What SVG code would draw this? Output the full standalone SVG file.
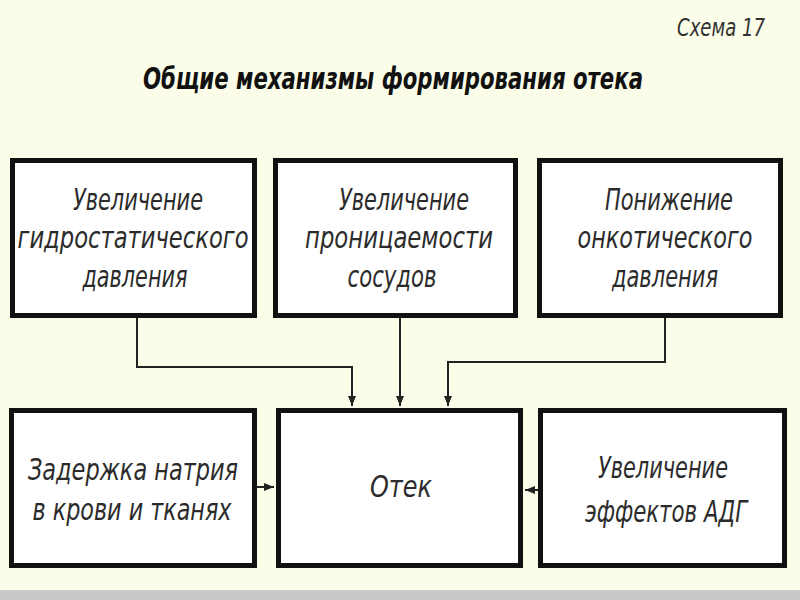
<svg xmlns="http://www.w3.org/2000/svg" width="800" height="600" viewBox="0 0 800 600">
<style>
.box{fill:#ffffff;stroke:#111;stroke-width:5}
.t{font-family:"DejaVu Sans Condensed","DejaVu Sans","Liberation Sans",sans-serif;font-style:italic;font-size:30px;fill:#2b2b2b;text-anchor:middle}
.title{font-family:"DejaVu Sans Condensed","DejaVu Sans","Liberation Sans",sans-serif;font-style:italic;font-weight:bold;font-size:30px;fill:#111;text-anchor:middle}
.sch{font-family:"DejaVu Sans Condensed","DejaVu Sans","Liberation Sans",sans-serif;font-style:italic;font-size:24px;fill:#333}
.c{fill:none;stroke:#222;stroke-width:2}
</style>
<defs>
<marker id="ah" viewBox="0 0 10 10" refX="10" refY="5" markerWidth="5" markerHeight="5" orient="auto" markerUnits="strokeWidth">
<path d="M0,1 L10,5 L0,9 Z" fill="#222"/>
</marker>
</defs>
<rect x="0" y="0" width="800" height="600" fill="#fbfde8"/>
<rect x="0" y="590" width="800" height="10" fill="#c9c9c9"/>
<text class="sch" x="677" y="36" textLength="88" lengthAdjust="spacingAndGlyphs">Схема 17</text>
<text class="title" x="393" y="89" textLength="500" lengthAdjust="spacingAndGlyphs">Общие механизмы формирования отека</text>

<g id="connectors">
<path class="c" d="M137,318 V367 H352 V406" marker-end="url(#ah)"/>
<path class="c" d="M400,318 V406" marker-end="url(#ah)"/>
<path class="c" d="M665,318 V362 H448 V406" marker-end="url(#ah)"/>
<path class="c" d="M257,487 H274" marker-end="url(#ah)"/>
<path class="c" d="M538,490 H525" marker-end="url(#ah)"/>
</g>

<g id="n1">
<rect class="box" x="12.5" y="160.5" width="242" height="155"/>
<text class="t" x="138" y="210" textLength="130" lengthAdjust="spacingAndGlyphs">Увеличение</text>
<text class="t" x="133" y="248" textLength="231" lengthAdjust="spacingAndGlyphs">гидростатического</text>
<text class="t" x="135" y="287" textLength="105" lengthAdjust="spacingAndGlyphs">давления</text>
</g>
<g id="n2">
<rect class="box" x="275.5" y="160.5" width="240" height="155"/>
<text class="t" x="404" y="210" textLength="130" lengthAdjust="spacingAndGlyphs">Увеличение</text>
<text class="t" x="399" y="248" textLength="188" lengthAdjust="spacingAndGlyphs">проницаемости</text>
<text class="t" x="392" y="287" textLength="89" lengthAdjust="spacingAndGlyphs">сосудов</text>
</g>
<g id="n3">
<rect class="box" x="539.5" y="160.5" width="241" height="155"/>
<text class="t" x="669" y="210" textLength="128" lengthAdjust="spacingAndGlyphs">Понижение</text>
<text class="t" x="665" y="248" textLength="175" lengthAdjust="spacingAndGlyphs">онкотического</text>
<text class="t" x="665" y="287" textLength="106" lengthAdjust="spacingAndGlyphs">давления</text>
</g>
<g id="n4">
<rect class="box" x="11.5" y="410.5" width="243" height="155"/>
<text class="t" x="133" y="480" textLength="210" lengthAdjust="spacingAndGlyphs">Задержка натрия</text>
<text class="t" x="132" y="520" textLength="199" lengthAdjust="spacingAndGlyphs">в крови и тканях</text>
</g>
<g id="n5">
<rect class="box" x="278.5" y="410.5" width="242" height="155"/>
<text class="t" x="401" y="497" textLength="62" lengthAdjust="spacingAndGlyphs">Отек</text>
</g>
<g id="n6">
<rect class="box" x="540.5" y="410.5" width="244" height="155"/>
<text class="t" x="663" y="478" textLength="130" lengthAdjust="spacingAndGlyphs">Увеличение</text>
<text class="t" x="666" y="522" textLength="162" lengthAdjust="spacingAndGlyphs">эффектов АДГ</text>
</g>
</svg>
